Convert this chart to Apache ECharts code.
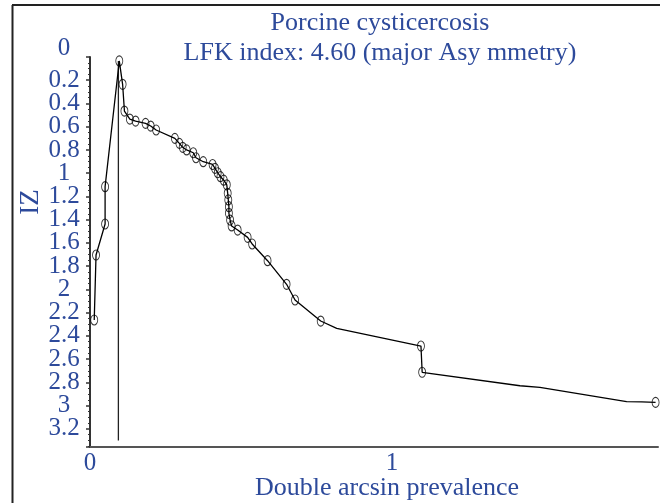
<!DOCTYPE html>
<html><head><meta charset="utf-8">
<script src="https://cdn.jsdelivr.net/npm/echarts@6/dist/echarts.min.js"></script>
<style>html,body{margin:0;padding:0;background:#fff}#c{width:660px;height:503px}</style>
</head><body><div id="c"></div>
<script>
// ---- data ----
const titleLines = ['Porcine cysticercosis', 'LFK index: 4.60 (major Asy mmetry)'];
const xAxisName = 'Double arcsin prevalence';
const yAxisName = 'IZ';
// left limb (from bottom up to the peak, peak excluded)
const leftX = [0.014, 0.020, 0.050, 0.050];
const leftY = [2.263, 1.704, 1.437, 1.116];
// right limb (from the peak downwards)
const rightX = [0.097, 0.108, 0.114, 0.132, 0.151, 0.184, 0.201, 0.219, 0.281, 0.296,
                0.307, 0.320, 0.342, 0.351, 0.375, 0.406, 0.414, 0.423, 0.432, 0.443,
                0.453, 0.456, 0.458, 0.460, 0.460, 0.464, 0.469, 0.489, 0.522, 0.537,
                0.588, 0.651, 0.679, 0.764, 1.096, 1.100, 1.873];
const rightY = [0.034, 0.235, 0.465, 0.534, 0.551, 0.571, 0.594, 0.628, 0.700, 0.743,
                0.777, 0.800, 0.824, 0.867, 0.901, 0.925, 0.958, 0.996, 1.030, 1.060,
                1.100, 1.173, 1.230, 1.288, 1.345, 1.403, 1.454, 1.489, 1.552, 1.609,
                1.753, 1.956, 2.091, 2.272, 2.487, 2.713, 2.972];
// unmarked bends of the drawn curve on the right limb
const bendX = [0.817, 1.424, 1.490, 1.777, 1.827];
const bendY = [2.335, 2.829, 2.843, 2.966, 2.967];
// vertical reference line
const refX = 0.094;
const refY = [0.034, 3.30];
const yTickStep = 0.2;
const xTickStep = 1;

// ---- build ----
const BLUE = '#2d4a9b';
const FONT = 'Liberation Serif';
const leftPts = leftX.map((x, i) => [x, leftY[i]]);
const rightPts = rightX.map((x, i) => [x, rightY[i]]);
const bendPts = bendX.map((x, i) => [x, bendY[i]]);
const rightPath = rightPts.concat(bendPts).sort((a, b) => a[1] - b[1]);
const path = leftPts.concat(rightPath);
const studies = leftPts.concat(rightPts);

const isMult = (v, s) => Math.abs(v / s - Math.round(v / s)) < 1e-6;
const fmt = v => String(Math.round(v * 10) / 10);

const chart = echarts.init(document.getElementById('c'), null, {renderer: 'canvas'});
chart.setOption({
  animation: false,
  backgroundColor: '#fff',
  title: {
    text: titleLines.join('\n'),
    left: 375, top: 3, textAlign: 'center',
    textStyle: {fontFamily: FONT, fontSize: 26, fontWeight: 'normal', color: BLUE, lineHeight: 30}
  },
  graphic: [
    {type: 'line', shape: {x1: 12, y1: 5, x2: 660, y2: 5}, style: {stroke: '#222', lineWidth: 2}},
    {type: 'line', shape: {x1: 12.5, y1: 5, x2: 12.5, y2: 503}, style: {stroke: '#222', lineWidth: 2}}
  ],
  grid: {left: 90, right: 2, top: 57, bottom: 56, containLabel: false, outerBoundsMode: 'none'},
  xAxis: {
    type: 'value', min: 0, max: 1.881, interval: xTickStep,
    name: xAxisName, nameLocation: 'middle', nameGap: 28, nameMoveOverlap: false,
    nameTextStyle: {fontFamily: FONT, fontSize: 26, color: BLUE, padding: [0, 0, 0, 26]},
    axisLine: {show: true, onZero: false, lineStyle: {color: '#555', width: 2}},
    axisTick: {show: false},
    splitLine: {show: false},
    axisLabel: {
      fontFamily: FONT, fontSize: 25, color: BLUE, margin: 4,
      formatter: v => isMult(v, xTickStep) ? fmt(v) : ''
    }
  },
  yAxis: {
    type: 'value', inverse: true, min: 0, max: 3.356, interval: yTickStep,
    name: yAxisName, nameLocation: 'middle', nameGap: 46, nameRotate: 90, nameMoveOverlap: false,
    nameTextStyle: {fontFamily: FONT, fontSize: 27, color: BLUE, padding: [0, 0, 0, 100]},
    axisLine: {show: true, onZero: false, lineStyle: {color: '#333', width: 2}},
    axisTick: {show: true, length: 4, lineStyle: {color: '#333', width: 1.5}},
    minorTick: {show: true, splitNumber: 4, length: 2, lineStyle: {color: '#333', width: 1}},
    splitLine: {show: false},
    minorSplitLine: {show: false},
    axisLabel: {
      fontFamily: FONT, fontSize: 25, color: BLUE, margin: 26, align: 'center',
      formatter: v => {
        if (!isMult(v, yTickStep)) return '';
        return v === 0 ? '{t|0}' : fmt(v);
      },
      rich: {t: {fontFamily: FONT, fontSize: 25, color: BLUE, padding: [0, 0, 18, 0]}}
    }
  },
  series: [
    {
      type: 'line', data: [[refX, refY[0]], [refX, refY[1]]],
      symbol: 'none', lineStyle: {color: '#222', width: 1.3}, z: 1, silent: true
    },
    {
      type: 'line', data: path, symbol: 'none',
      lineStyle: {color: '#000', width: 1.3}, z: 2, silent: true
    },
    {
      type: 'scatter', data: studies, symbol: 'circle', symbolSize: [7, 10],
      itemStyle: {color: 'rgba(0,0,0,0)', borderColor: '#000', borderWidth: 1}, z: 3
    }
  ]
});
</script></body></html>
